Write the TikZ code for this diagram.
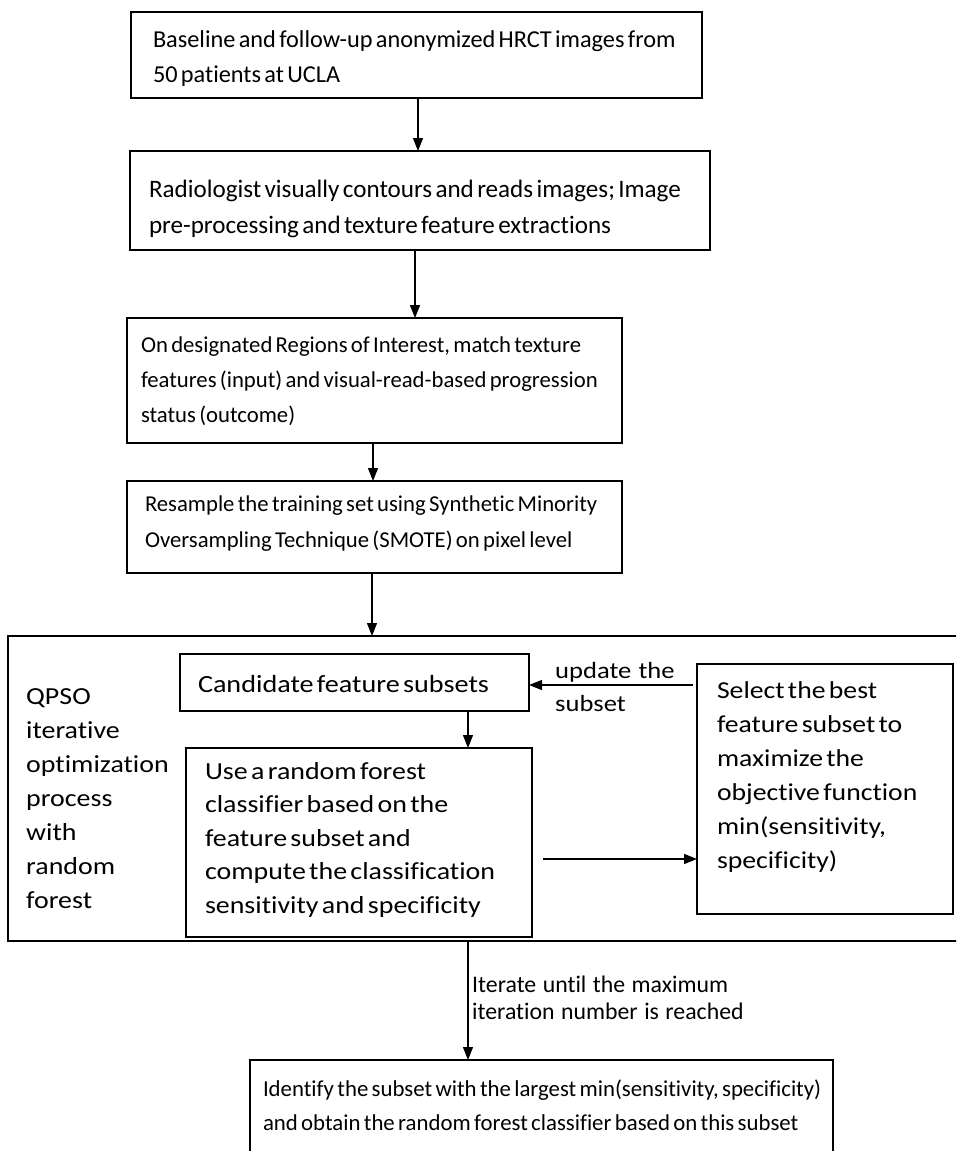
\documentclass[tikz,border=0pt]{standalone}
\usepackage{fontspec}
\setmainfont{Carlito}[Ligatures=NoCommon, WordSpace=1.2]
\newfontfamily\widefont{Carlito}[Ligatures=NoCommon, FakeStretch=1.14, WordSpace=1.2]
\usetikzlibrary{arrows.meta}
% name, x1, y1, x2, y2, text x, first baseline, content, font
\newcommand{\flowbox}[9]{%
  \pgfmathsetlengthmacro\bxsep{#6-#2}%
  \pgfmathsetlengthmacro\bw{#4-#2-2*(#6-#2)}%
  \pgfmathsetlengthmacro\bth{#7-#3}%
  \pgfmathsetlengthmacro\btd{#5-#7}%
  \node[box, inner xsep=\bxsep, text width=\bw, text height=\bth, text depth=\btd] (#1) at (#2,#3)
    {#9\selectfont\begin{tabular}[t]{@{}l@{}}#8\end{tabular}};}
\begin{document}
\begin{tikzpicture}[x=1pt,y=-1pt,
  box/.style={draw, line width=1.2pt, inner ysep=0pt, anchor=north west, outer sep=0pt},
  arr/.style={line width=1.2pt, -{Triangle[length=13pt,width=10pt]}},
  freetext/.style={anchor=base west, inner sep=0pt}
]
\clip (0,0) rectangle (956,1151);
\fill[white] (0,0) rectangle (956,1151);

\flowbox{B1}{131}{12}{702}{98}{153}{47}{Baseline and follow-up anonymized HRCT images from\\50 patients at UCLA}{\fontsize{24.3}{35}}
\flowbox{B2}{130}{151}{710}{250}{149}{197}{Radiologist visually contours and reads images; Image\\pre-processing and texture feature extractions}{\fontsize{25.1}{36}}
\flowbox{B3}{127}{318}{622}{443}{141}{352}{On designated Regions of Interest, match texture\\features (input) and visual-read-based progression\\status (outcome)}{\fontsize{22.7}{35}}
\flowbox{B4}{127}{481}{622}{573}{145}{511}{Resample the training set using Synthetic Minority\\Oversampling Technique (SMOTE) on pixel level}{\fontsize{22.7}{36}}

\node[draw, line width=1.8pt, anchor=north west, minimum width=960pt, minimum height=305pt, inner sep=0pt, outer sep=0pt] (Q) at (8,636) {};

\flowbox{C}{180}{654}{529}{711}{198}{692}{Candidate feature subsets}{\widefont\fontsize{24.7}{34}}
\flowbox{U}{186}{748}{532}{937}{205}{779}{Use a random forest\\classifier based on the\\feature subset and\\compute the classification\\sensitivity and specificity}{\widefont\fontsize{24.5}{33.5}}
\flowbox{R}{697}{664}{953}{914}{717}{698}{Select the best\\feature subset to\\maximize the\\objective function\\min(sensitivity,\\specificity)}{\widefont\fontsize{24.3}{34}}

\node[freetext, font=\widefont\fontsize{24.5}{34}\selectfont] (qpso) at (26,704) {\begin{tabular}[t]{@{}l@{}}QPSO\\iterative\\optimization\\process\\with\\random\\forest\end{tabular}};
\node[freetext, font=\widefont\fontsize{23.3}{33}\selectfont] (upd) at (555,678) {\begin{tabular}[t]{@{}l@{}}update the\\subset\end{tabular}};
\node[freetext, font=\fontsize{23.8}{27}\selectfont] (iter) at (472,992) {\begin{tabular}[t]{@{}l@{}}Iterate until the maximum\\iteration number is reached\end{tabular}};

\flowbox{E}{250}{1060}{833}{1175}{263}{1096}{Identify the subset with the largest min(sensitivity, specificity)\\and obtain the random forest classifier based on this subset}{\fontsize{22.8}{34}}

\coordinate (a1) at (418,0);
\coordinate (a2) at (415,0);
\coordinate (a3) at (373,0);
\coordinate (a4) at (372,0);
\coordinate (a5) at (468,0);
\coordinate (uy) at (0,685);
\coordinate (ry) at (543,859);

\draw[arr] (B1.south -| a1) -- (B2.north -| a1);
\draw[arr] (B2.south -| a2) -- (B3.north -| a2);
\draw[arr] (B3.south -| a3) -- (B4.north -| a3);
\draw[arr] (B4.south -| a4) -- (Q.north -| a4);
\draw[arr] (C.south -| a5) -- (U.north -| a5);
\draw[arr] (uy -| R.west) ++(-4,0) -- (uy -| C.east);
\draw[arr] (ry) -- (ry -| R.west);
\draw[arr] (Q.south -| a5) -- (E.north -| a5);
\end{tikzpicture}
\end{document}
